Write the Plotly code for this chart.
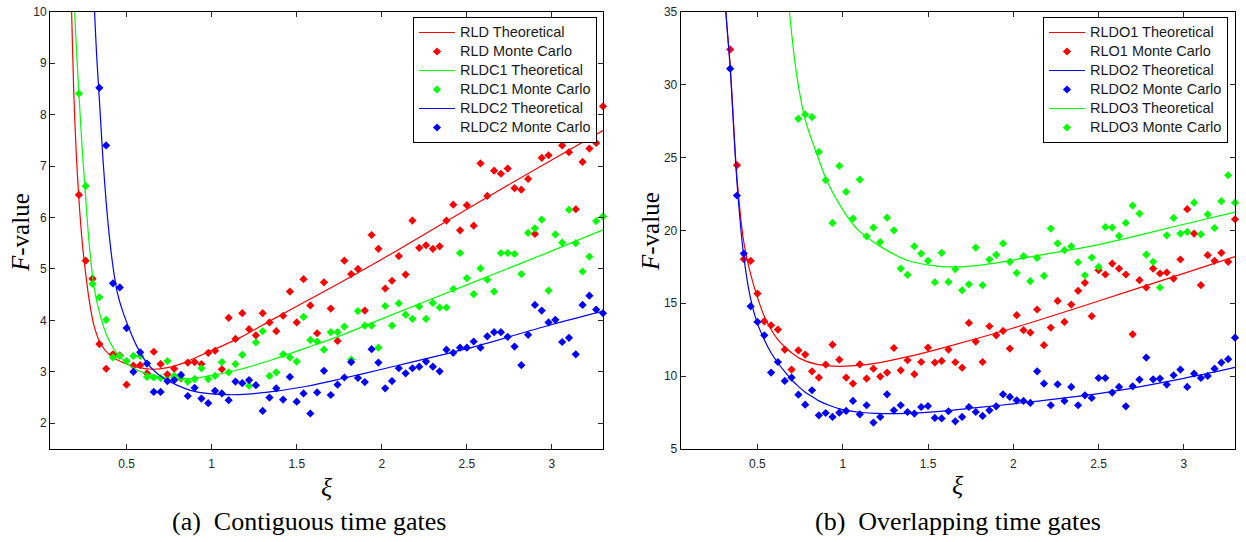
import plotly.graph_objects as go

# ---------------- data ----------------
xi = [0.22, 0.26, 0.30, 0.34, 0.38, 0.42, 0.46, 0.50, 0.54, 0.58,
      0.62, 0.66, 0.70, 0.74, 0.78, 0.82, 0.86, 0.90, 0.94, 0.98,
      1.02, 1.06, 1.10, 1.14, 1.18, 1.22, 1.26, 1.30, 1.34, 1.38,
      1.42, 1.46, 1.50, 1.54, 1.58, 1.62, 1.66, 1.70, 1.74, 1.78,
      1.82, 1.86, 1.90, 1.94, 1.98, 2.02, 2.06, 2.10, 2.14, 2.18,
      2.22, 2.26, 2.30, 2.34, 2.38, 2.42, 2.46, 2.50, 2.54, 2.58,
      2.62, 2.66, 2.70, 2.74, 2.78, 2.82, 2.86, 2.90, 2.94, 2.98,
      3.02, 3.06, 3.10, 3.14, 3.18, 3.22, 3.26, 3.30]

# (a) contiguous time gates - Monte Carlo
rld_mc = [6.44, 5.16, 4.81, 3.54, 3.06, 3.34, 3.32, 2.75, 3.12, 3.13,
          2.97, 3.39, 3.15, 2.95, 3.06, 2.87, 3.18, 3.19, 3.15, 3.37,
          3.41, 3.05, 4.05, 3.64, 4.14, 3.83, 3.71, 4.14, 3.96, 3.79,
          4.09, 4.56, 3.96, 4.80, 4.29, 3.75, 4.74, 4.23, 3.60, 5.16,
          4.90, 5.00, 4.19, 5.66, 5.39, 4.62, 4.77, 5.25, 4.89, 5.94,
          5.41, 5.46, 5.39, 5.44, 5.94, 6.25, 5.75, 6.24, 5.84, 7.05,
          6.42, 6.91, 6.85, 6.95, 6.57, 6.54, 6.75, 5.68, 7.16, 7.21,
          7.56, 7.40, 7.27, 6.16, 7.08, 7.34, 7.45, 8.16]
rldc1_mc = [8.41, 6.61, 4.71, 4.45, 4.01, 3.28, 3.31, 3.21, 3.31, 3.31,
            2.90, 2.89, 2.88, 3.21, 2.92, 2.88, 2.81, 2.86, 3.07, 2.86,
            2.92, 3.19, 2.99, 3.15, 3.33, 2.73, 3.57, 3.79, 2.92, 2.99,
            3.34, 3.28, 3.20, 4.07, 3.62, 3.59, 3.43, 3.77, 3.77, 3.88,
            3.24, 4.18, 3.90, 3.90, 3.47, 4.28, 3.90, 4.33, 4.11, 4.03,
            4.27, 4.03, 4.34, 4.25, 4.25, 4.61, 5.31, 4.82, 4.51, 5.01,
            4.79, 4.56, 5.31, 5.31, 5.29, 4.90, 5.70, 5.79, 5.96, 4.58,
            5.67, 5.51, 6.15, 5.50, 4.95, 5.24, 5.93, 6.02]
rldc2_mc = [None, None, None, 8.52, 7.40, 4.72, 4.64, 3.85, 3.00, 3.38,
            3.16, 2.61, 2.61, 2.82, 2.84, 2.94, 2.53, 2.69, 2.48, 2.39,
            2.63, 2.58, 2.45, 2.81, 2.78, 2.84, 2.74, 2.24, 2.50, 2.68,
            2.46, 2.90, 2.42, 2.58, 2.19, 2.60, 3.02, 2.55, 2.75, 2.89,
            3.19, 2.88, 2.80, 3.44, 3.18, 2.68, 2.82, 3.07, 2.97, 3.07,
            3.10, 3.20, 3.10, 3.01, 3.43, 3.37, 3.47, 3.47, 3.59, 3.47,
            3.69, 3.77, 3.77, 3.68, 3.49, 3.13, 3.72, 4.30, 4.19, 3.96,
            4.01, 3.58, 3.66, 3.34, 4.30, 4.48, 4.21, 4.14]

# (a) theoretical curves (sampled from the figure)
rld_th_x = [0.165, 0.177, 0.19, 0.205, 0.22, 0.24, 0.26, 0.28, 0.31, 0.35,
            0.40, 0.47, 0.56, 0.65, 0.74, 0.84, 0.97, 1.17, 1.36, 1.56,
            1.755, 2.09, 2.69, 3.30]
rld_th_y = [11.6, 10.0, 8.4, 7.2, 6.35, 5.5, 4.9, 4.4, 3.88, 3.53,
            3.33, 3.19, 3.09, 3.05, 3.08, 3.18, 3.37, 3.67, 4.02, 4.38,
            4.73, 5.36, 6.53, 7.69]
rldc1_th_x = [0.183, 0.195, 0.21, 0.22, 0.24, 0.255, 0.28, 0.31, 0.35, 0.39,
              0.445, 0.52, 0.62, 0.76, 0.87, 0.97, 1.17, 1.36, 1.56, 1.755,
              2.0, 2.5, 3.0, 3.3]
rldc1_th_y = [11.4, 10.0, 9.0, 8.4, 7.3, 6.6, 5.5, 4.62, 4.04, 3.66,
              3.35, 3.12, 2.96, 2.88, 2.865, 2.91, 3.05, 3.24, 3.47, 3.70,
              4.03, 4.69, 5.35, 5.76]
rldc2_th_x = [0.30, 0.312, 0.325, 0.34, 0.36, 0.38, 0.40, 0.42, 0.445, 0.48,
              0.52, 0.56, 0.62, 0.72, 0.875, 1.0, 1.1, 1.21, 1.364, 1.56,
              1.755, 2.0, 2.5, 3.0, 3.3]
rldc2_th_y = [11.2, 10.0, 9.1, 8.3, 7.2, 6.3, 5.6, 5.05, 4.55, 4.15,
              3.8, 3.5, 3.17, 2.87, 2.64, 2.57, 2.555, 2.565, 2.62, 2.72,
              2.86, 3.05, 3.45, 3.92, 4.18]

# (b) overlapping time gates - Monte Carlo
rlo1_mc = [None, None, None, 32.41, 24.47, 18.02, 17.91, 15.66, 13.76, 13.49,
           13.19, 11.82, 10.45, 11.77, 11.48, 10.33, 9.90, 10.79, 12.16, 11.13,
           9.90, 9.49, 10.81, 9.83, 10.51, 9.97, 10.24, 11.93, 10.40, 11.09,
           10.13, 10.97, 11.96, 10.93, 11.04, 11.82, 10.95, 10.58, 13.65, 12.37,
           10.97, 13.42, 12.80, 13.10, 11.89, 14.18, 13.15, 12.99, 14.57, 12.12,
           13.33, 15.16, 13.72, 14.91, 15.85, 16.40, 14.11, 17.27, 16.97, 17.72,
           17.38, 16.97, 12.87, 16.58, 16.08, 17.38, 17.04, 17.11, 16.69, 18.00,
           21.45, 19.78, 16.24, 18.30, 17.91, 18.46, 17.84, 20.76]
rldo2_mc = [None, None, None, 31.09, 22.39, 18.41, 14.79, 13.72, 12.80, 10.24,
            10.97, 9.67, 9.90, 8.73, 8.04, 9.03, 7.31, 7.47, 7.20, 7.49,
            7.61, 8.30, 7.38, 8.00, 6.81, 7.20, 8.75, 7.65, 8.00, 7.54,
            7.43, 7.88, 7.95, 7.13, 7.10, 7.59, 6.90, 7.20, 7.88, 7.54,
            7.27, 7.65, 7.93, 8.75, 8.57, 8.34, 8.30, 8.16, 10.33, 9.49,
            8.00, 9.44, 8.30, 9.26, 8.00, 8.68, 8.50, 9.87, 9.87, 8.87,
            9.26, 7.93, 9.30, 9.76, 11.27, 9.78, 9.83, 9.42, 10.06, 10.45,
            9.26, 10.17, 9.87, 10.01, 10.51, 10.93, 11.16, 12.64]
rldo3_mc = [None, None, None, None, None, None, None, None, None, None,
            None, None, None, 27.65, 27.95, 27.77, 25.38, 23.44, 20.51, 24.42,
            22.64, 20.81, 23.48, 19.59, 20.19, 19.20, 20.87, 20.00, 17.38, 16.95,
            18.91, 18.41, 17.91, 16.44, 18.46, 16.46, 17.33, 15.89, 16.30, 18.82,
            16.24, 18.00, 18.32, 19.10, 17.84, 17.08, 18.23, 16.51, 18.11, 16.88,
            20.12, 19.10, 18.64, 18.91, 17.81, 16.92, 18.13, 17.49, 20.23, 20.19,
            19.62, 20.51, 21.70, 21.15, 18.34, 17.84, 16.08, 19.66, 20.85, 19.78,
            19.89, 21.90, 19.73, 21.10, 20.16, 22.00, 23.78, 21.90]

# (b) theoretical curves (sampled from the figure)
rldo1_th_x = [0.305, 0.315, 0.34, 0.38, 0.42, 0.46, 0.50, 0.54, 0.58, 0.62,
              0.66, 0.70, 0.75, 0.85, 0.95, 1.05, 1.18, 1.376, 1.572, 2.0,
              2.5, 3.0, 3.3]
rldo1_th_y = [38.0, 35.0, 31.3, 23.6, 19.2, 17.0, 15.4, 14.1, 13.2, 12.5,
              12.0, 11.6, 11.2, 10.8, 10.68, 10.7, 10.86, 11.32, 11.89, 13.3,
              15.15, 17.05, 18.2]
rldo2_th_x = [0.305, 0.315, 0.34, 0.38, 0.42, 0.46, 0.50, 0.54, 0.58, 0.62,
              0.66, 0.70, 0.74, 0.78, 0.82, 0.86, 0.92, 1.0, 1.1, 1.2,
              1.376, 1.572, 1.8, 2.0, 2.5, 3.0, 3.3]
rldo2_th_y = [38.0, 35.0, 31.2, 23.3, 18.2, 15.3, 13.6, 12.5, 11.6, 10.9,
              10.3, 9.75, 9.3, 8.9, 8.6, 8.3, 8.0, 7.7, 7.52, 7.44,
              7.45, 7.58, 7.85, 8.1, 8.8, 9.85, 10.6]
rldo3_th_x = [0.675, 0.688, 0.731, 0.78, 0.849, 0.907, 0.985, 1.083, 1.22, 1.377,
              1.553, 1.7, 1.86, 2.156, 2.45, 2.68, 2.94, 3.3]
rldo3_th_y = [37.0, 35.0, 30.6, 27.6, 25.2, 23.4, 21.7, 20.1, 18.9, 17.95,
              17.55, 17.5, 17.7, 18.3, 18.9, 19.5, 20.25, 21.25]

x_ticks = [0.5, 1, 1.5, 2, 2.5, 3]
x_ticklabels = ["0.5", "1", "1.5", "2", "2.5", "3"]
ya_ticks = [2, 3, 4, 5, 6, 7, 8, 9, 10]
yb_ticks = [5, 10, 15, 20, 25, 30, 35]

RED, GREEN, BLUE = "#ff0000", "#00ff00", "#0000ff"

# ---------------- figure ----------------
W, H = 1246, 542


def px(x):
    return x / W


def py(y):
    return 1 - y / H


fig = go.Figure()


def lname(s):
    return '<span style="font-size:14.5px">' + s + "</span>"


def line(x, y, name, color, xa, ya, lg):
    fig.add_trace(go.Scatter(x=x, y=y, mode="lines", name=lname(name),
                             line=dict(color=color, width=1.2, shape="spline", smoothing=0.8),
                             xaxis=xa, yaxis=ya, legend=lg))


def pts(x, y, name, color, xa, ya, lg):
    fig.add_trace(go.Scatter(x=x, y=y, mode="markers", name=lname(name),
                             marker=dict(color=color, symbol="diamond", size=6.3,
                                         line=dict(width=0)),
                             cliponaxis=False,
                             xaxis=xa, yaxis=ya, legend=lg))


line(rld_th_x, rld_th_y, "RLD Theoretical", RED, "x", "y", "legend")
pts(xi, rld_mc, "RLD Monte Carlo", RED, "x", "y", "legend")
line(rldc1_th_x, rldc1_th_y, "RLDC1 Theoretical", GREEN, "x", "y", "legend")
pts(xi, rldc1_mc, "RLDC1 Monte Carlo", GREEN, "x", "y", "legend")
line(rldc2_th_x, rldc2_th_y, "RLDC2 Theoretical", BLUE, "x", "y", "legend")
pts(xi, rldc2_mc, "RLDC2 Monte Carlo", BLUE, "x", "y", "legend")

line(rldo1_th_x, rldo1_th_y, "RLDO1 Theoretical", RED, "x2", "y2", "legend2")
pts(xi, rlo1_mc, "RLO1 Monte Carlo", RED, "x2", "y2", "legend2")
line(rldo2_th_x, rldo2_th_y, "RLDO2 Theoretical", BLUE, "x2", "y2", "legend2")
pts(xi, rldo2_mc, "RLDO2 Monte Carlo", BLUE, "x2", "y2", "legend2")
line(rldo3_th_x, rldo3_th_y, "RLDO3 Theoretical", GREEN, "x2", "y2", "legend2")
pts(xi, rldo3_mc, "RLDO3 Monte Carlo", GREEN, "x2", "y2", "legend2")

tickfont = dict(family="Liberation Sans, Arial, sans-serif", size=12, color="#262626")


def xaxis(dom, anchor):
    return dict(domain=dom, anchor=anchor, range=[0.05, 3.3], tickvals=x_ticks,
                ticktext=x_ticklabels, ticks="inside", ticklen=5, tickcolor="#262626",
                showline=True, linecolor="black", linewidth=1, mirror="ticks",
                showgrid=False, zeroline=False, tickfont=tickfont, automargin=False,
                ticklabelstandoff=4, ticklabeloverflow="allow")


def yaxis(dom, anchor, rng, tv):
    return dict(domain=dom, anchor=anchor, range=rng, tickvals=tv,
                ticks="inside", ticklen=5, tickcolor="#262626",
                showline=True, linecolor="black", linewidth=1, mirror="ticks",
                showgrid=False, zeroline=False, tickfont=tickfont, automargin=False,
                ticklabeloverflow="allow")


ydom = [py(449), py(11.7)]
legfont = dict(family="Liberation Sans, Arial, sans-serif", size=11, color="#1a1a1a")
serif = "Liberation Serif, Times New Roman, serif"


def ann(text, x, y, size, angle=0):
    return dict(text=text, x=px(x), y=py(y), xref="paper", yref="paper",
                xanchor="center", yanchor="middle", showarrow=False, textangle=angle,
                font=dict(family=serif, size=size, color="black"))


fig.update_layout(
    width=W, height=H,
    margin=dict(l=0, r=0, t=0, b=0),
    paper_bgcolor="white", plot_bgcolor="white",
    hovermode=False,
    xaxis=xaxis([px(50), px(603)], "y"),
    yaxis=yaxis(ydom, "x", [1.5, 10], ya_ticks),
    xaxis2=xaxis([px(680.7), px(1235)], "y2"),
    yaxis2=yaxis(ydom, "x2", [5, 35], yb_ticks),
    legend=dict(x=px(597), xanchor="right", y=py(17), yanchor="top",
                bgcolor="white", bordercolor="black", borderwidth=1,
                font=legfont, tracegroupgap=0, itemwidth=36),
    legend2=dict(x=px(1228), xanchor="right", y=py(17), yanchor="top",
                 bgcolor="white", bordercolor="black", borderwidth=1,
                 font=legfont, tracegroupgap=0, itemwidth=36),
    annotations=[
        ann("<i>ξ</i>", 327, 487, 26),
        ann("<i>ξ</i>", 958, 485, 26),
        ann("<i>F</i>-value", 20, 232, 25, -90),
        ann("<i>F</i>-value", 650, 232, 25, -90),
        ann("(a)  Contiguous time gates", 309, 521, 26),
        ann("(b)  Overlapping time gates", 958, 521, 26),
    ],
)

# the page body has a default 8 px margin; remove it so the figure fills the window
fig.write_html("out.html", config={"displayModeBar": False},
               post_script="document.body.style.margin='0px';")
